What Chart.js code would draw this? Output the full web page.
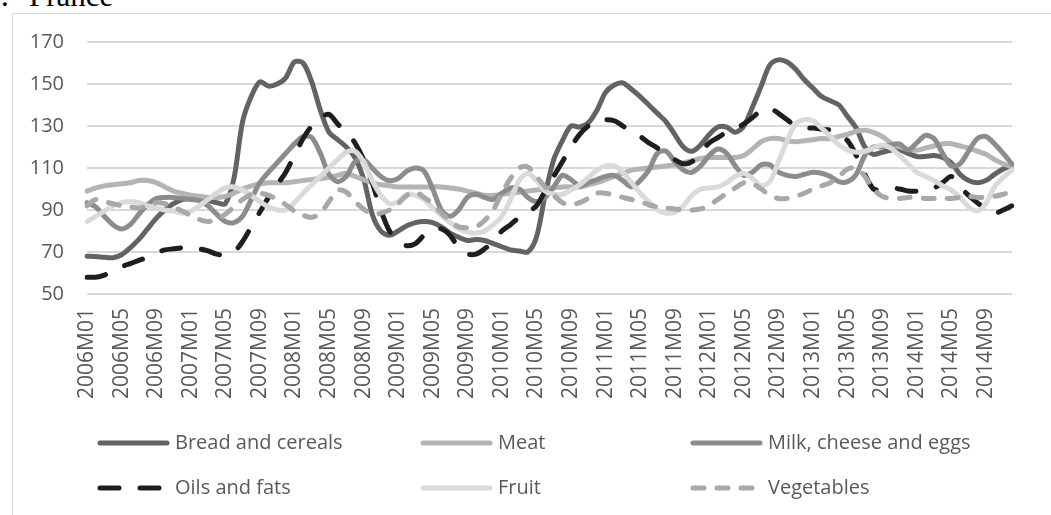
<!DOCTYPE html>
<html>
<head>
<meta charset="utf-8">
<script src="https://cdn.jsdelivr.net/npm/chart.js@4"></script>
<style>
  html, body { margin: 0; padding: 0; background: #fff; }
  #wrap { position: relative; width: 1051px; height: 515px; overflow: hidden; }
  #frame { position: absolute; left: 12px; top: 13px; right: 0; bottom: -5px;
           border-left: 1.5px solid #d9d9d9; border-top: 1.5px solid #d9d9d9; }
  .ttl { position: absolute; top: -20px; font: 31px/31px "Liberation Serif", serif; color: #000; }
  canvas { position: absolute; left: 0; top: 0; }
</style>
</head>
<body>
<div id="wrap">
  <div id="frame"></div>
  <span class="ttl" style="left:1px">.</span>
  <span class="ttl" style="left:29px">France</span>
  <canvas id="chart" width="1051" height="515"></canvas>
</div>
<script>
// months 2006M01 .. 2014M12
const years = [2006, 2007, 2008, 2009, 2010, 2011, 2012, 2013, 2014];
const months = [];
years.forEach(y => { for (let m = 1; m <= 12; m++) months.push(y + 'M' + String(m).padStart(2, '0')); });

const yTicks = [50, 70, 90, 110, 130, 150, 170];

const bread = [68, 67.8, 67.5, 67.3, 68.7, 72, 76, 81, 86, 90, 93, 95,
  95.5, 95, 94.5, 93.5, 93, 105, 132, 144, 151, 149, 150, 153,
  160.5, 160, 151, 137.5, 127, 123.5, 120, 115, 105, 88, 80, 78,
  80, 82.5, 84, 84.5, 84, 82, 79, 77, 75.5, 76, 75.5, 74,
  72.5, 71, 70.5, 70, 77, 97, 114, 123, 130, 129.5, 131.5, 137.5,
  146, 149.5, 150.5, 147.5, 144, 140, 136, 132, 126, 120, 118, 121,
  126, 129.5, 129.5, 127, 130, 139, 149, 159, 161.5, 160.5, 157, 152,
  148, 144, 142, 140, 134.5, 129, 120, 116.5, 117.5, 118.5, 118.5, 117,
  115.5, 115.5, 116, 115, 112.5, 107, 104, 103, 104, 107, 109.5, 111.5];

const meat = [99, 100.5, 101.5, 102, 102.5, 103, 104, 104, 103, 101, 99, 98,
  97, 96.5, 96, 96, 96.5, 98, 100, 101.5, 102.5, 103, 103, 103,
  103.5, 104, 104.5, 105, 105.5, 106.5, 107.5, 106, 104.5, 103, 102, 101.5,
  101, 101, 101, 101, 101, 101, 100.5, 100, 99, 98, 97, 97,
  97.5, 98, 98.5, 99, 99.5, 100, 100.5, 101, 101, 101, 102, 103,
  104.5, 106, 107.5, 109, 109.5, 110, 110.5, 111, 111.5, 112.5, 113.5, 114.5,
  115, 115, 115, 115, 116, 119, 122.5, 124, 124, 123, 122.5, 123,
  123.5, 124, 124, 125, 126, 127.5, 128, 127, 125, 122, 120, 119,
  118.5, 119.5, 120.5, 121.5, 121.5, 120.5, 119.5, 118, 116.5, 114, 112, 110.5];

const milk = [93.5, 91.5, 87, 83, 81, 83, 88, 92.5, 95.5, 96, 96, 95.5,
  95, 94.5, 92, 88, 84.5, 84, 87, 95, 103, 108, 112.5, 117,
  121.5, 125, 124.5, 117, 107, 103.5, 106, 113, 114, 110, 106, 104,
  105, 108.5, 110, 108.5, 100, 90, 87, 90, 96, 97.5, 96, 95,
  98, 100.5, 100, 96, 94, 96, 101, 106.5, 104.5, 101.5, 103, 104.5,
  106, 106.5, 104, 101, 104, 109, 117, 118, 113, 109, 108, 111,
  116, 119, 117, 111, 106.5, 108, 111.5, 111.5, 108, 106.5, 106, 107,
  108, 107.5, 106, 103.5, 103.5, 107, 116, 120, 120, 121, 121.5, 118.5,
  122, 125.5, 124, 117, 111, 112, 118, 124, 125, 121.5, 117, 112];

const oils = [58, 58, 59, 61, 63, 64.5, 66, 67.5, 69.5, 71, 71.5, 72,
  72, 71.5, 70.5, 69, 68.5, 70, 75, 82, 89, 96, 102, 108,
  116, 124, 130, 134, 135.5, 131, 127, 122, 114, 103, 90, 80,
  75, 73, 74, 78, 80.5, 81, 78, 72, 69, 69, 71.5, 75,
  80, 83, 86.5, 89, 92, 99, 106, 113, 120, 126, 130, 132.5,
  133, 132.5, 130, 127, 125, 122, 119.5, 116.5, 114, 112, 113, 117.5,
  122, 124.5, 127, 128.5, 131, 134, 137.5, 138.5, 136, 133, 130, 129,
  129, 128.5, 128, 126, 123, 116, 107, 100, 100, 100.5, 100, 99,
  99, 99.5, 100.5, 103, 106, 101, 97, 93.5, 90.5, 88.5, 90, 92];

const fruit = [84.5, 87, 89.5, 92, 93.5, 94, 93.5, 92, 91, 90, 89.5, 88.5,
  89.5, 92, 95, 98, 100.5, 101, 99.5, 97, 94, 91.5, 90, 90,
  93.5, 98, 102, 106, 110, 114, 117.5, 118, 113, 104, 97, 93,
  94, 97.5, 97, 95, 91, 87.5, 84, 81, 79.5, 79, 80, 83,
  87, 95, 104, 107.5, 104, 99, 97.5, 97.5, 99.5, 102, 105.5, 109,
  111, 111, 108, 103, 98, 94, 90, 88.5, 89, 92, 97, 100,
  100.5, 101, 103, 106, 107.5, 105, 101.5, 103.5, 113, 123, 131, 133,
  132.5, 129, 125, 121, 118.5, 117.5, 118, 119.5, 121, 119.5, 116, 112,
  108, 106, 104, 101.5, 99.5, 96, 91.5, 89.5, 93, 101, 105.5, 109];

const vegetables = [92, 95, 94, 93, 92, 91.5, 91, 92, 93.5, 93, 91.5, 89.5,
  87.5, 85.5, 84.5, 85.5, 88, 91.5, 95, 97.5, 98, 97, 95, 92.5,
  89.5, 87.5, 86.5, 88.5, 94, 99.5, 98.5, 94, 90.5, 88, 88.5, 90,
  93, 97, 98.5, 96, 93, 88.5, 85, 82, 81.5, 82, 85, 90,
  98, 105, 110, 110.5, 106, 101, 97, 93.5, 92.5, 93.5, 95.5, 98,
  98, 97, 96, 95, 94, 92.5, 91.5, 91, 90.5, 90, 90, 90.5,
  92.5, 95, 98, 100.5, 103, 102.5, 100, 97, 95.5, 95.5, 96.5, 98,
  100, 101.5, 103, 106, 109.5, 110, 106, 100, 96.5, 95.5, 95.5, 96,
  96, 95.5, 95.5, 95.5, 95.5, 96, 96.5, 96, 96, 96.5, 97.5, 99];

const seriesNames = ['Bread and cereals', 'Meat', 'Milk, cheese and eggs', 'Oils and fats', 'Fruit', 'Vegetables'];
const seriesData = [bread, meat, milk, oils, fruit, vegetables];
const colors = ['#636363', '#b4b4b4', '#8c8c8c', '#1e1e1e', '#dadada', '#a8a8a8'];
const dashes = [[], [], [], [19, 21], [], [11, 13]];

const textColor = '#595959';
const font = '"Open Sans", sans-serif';

// legend placed like the Excel one: 3 columns, 2 rows
const legendCols = [97, 420, 690];
const legendRows = [443, 488];

const legendPlugin = {
  id: 'gridLegend',
  afterDraw(chart) {
    const ctx = chart.ctx;
    ctx.save();
    chart.data.datasets.forEach((ds, i) => {
      const x = legendCols[i % 3];
      const y = legendRows[Math.floor(i / 3)];
      ctx.beginPath();
      ctx.lineWidth = 5;
      ctx.lineCap = 'round';
      ctx.strokeStyle = ds.borderColor;
      ctx.setLineDash(ds.borderDash || []);
      ctx.moveTo(x + 3, y);
      ctx.lineTo(x + 70, y);
      ctx.stroke();
      ctx.setLineDash([]);
      ctx.fillStyle = textColor;
      ctx.font = '20px ' + font;
      ctx.textBaseline = 'middle';
      ctx.fillText(ds.label, x + 78, y);
    });
    ctx.restore();
  }
};

new Chart(document.getElementById('chart').getContext('2d'), {
  type: 'line',
  data: {
    labels: months,
    datasets: seriesNames.map((name, i) => ({
      label: name,
      data: seriesData[i],
      borderColor: colors[i],
      backgroundColor: colors[i],
      borderWidth: 5,
      borderDash: dashes[i],
      borderCapStyle: 'round',
      borderJoinStyle: 'round',
      pointRadius: 0,
      tension: 0.3,
      fill: false,
      order: 6 - i
    }))
  },
  options: {
    responsive: false,
    animation: false,
    layout: { padding: { top: 42, right: 20, left: 0, bottom: 0 } },
    plugins: {
      legend: { display: false },
      tooltip: { enabled: false }
    },
    scales: {
      x: {
        grid: { display: false, drawTicks: false },
        border: { display: false },
        afterFit: s => { s.height = 221; },
        ticks: {
          autoSkip: false,
          maxRotation: 90,
          minRotation: 90,
          padding: 14,
          color: textColor,
          font: { family: font, size: 21 },
          callback: (v, i) => (i % 4 === 0 ? months[i] : '')
        }
      },
      y: {
        min: 50,
        max: 170,
        afterFit: s => { s.width = 87; },
        afterBuildTicks: s => { s.ticks = yTicks.map(v => ({ value: v })); },
        grid: { color: '#d9d9d9', lineWidth: 2, drawTicks: false },
        border: { display: false },
        ticks: {
          padding: 23,
          color: textColor,
          font: { family: font, size: 20 }
        }
      }
    }
  },
  plugins: [legendPlugin]
});
</script>
</body>
</html>
